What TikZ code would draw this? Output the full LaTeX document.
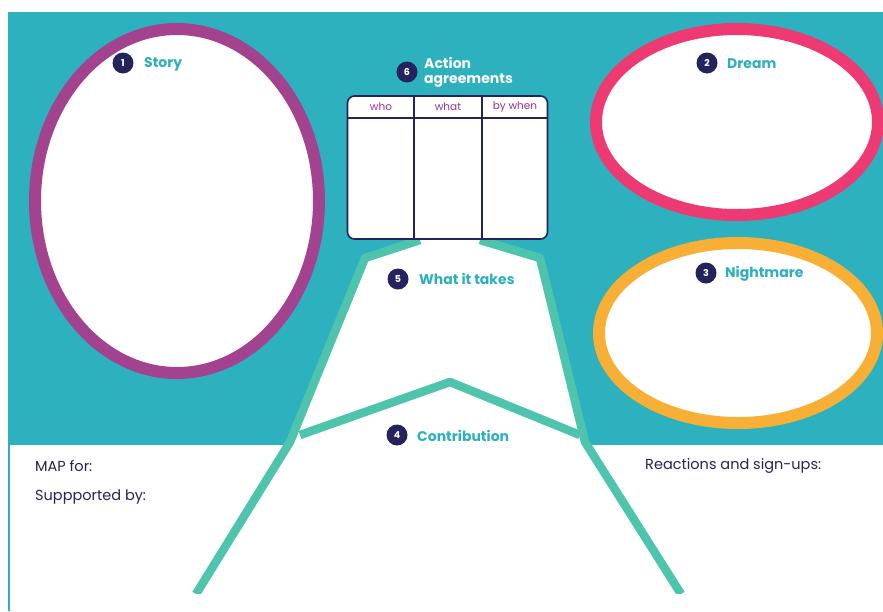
\documentclass[tikz,border=0pt]{standalone}
\usepackage{fontspec}
\setmainfont{Poppins}
\usetikzlibrary{calc}
\definecolor{bgteal}{HTML}{2DB1BF}
\definecolor{mgreen}{HTML}{4EC4AC}
\definecolor{spurple}{HTML}{A3428F}
\definecolor{dpink}{HTML}{EE3A72}
\definecolor{norange}{HTML}{F8AF36}
\definecolor{navy}{HTML}{24235B}
\definecolor{hpurple}{HTML}{9E2F8C}
\definecolor{lteal}{HTML}{2BAFC1}
\tikzset{
  badge/.style={circle,fill=navy,text=white,inner sep=0pt,minimum size=21pt,font=\bfseries\fontsize{9.5}{9.5}\selectfont},
  label/.style={anchor=west,text=lteal,inner sep=0pt,font=\bfseries\fontsize{14}{14}\selectfont},
  bodytext/.style={anchor=west,text=navy,inner sep=0pt,font=\fontsize{14.5}{14.5}\selectfont},
  hdr/.style={text=hpurple,inner sep=0pt,font=\fontsize{10.5}{11}\selectfont},
  ring/.style={line width=12pt,fill=white},
  mline/.style={draw=mgreen,line width=8.5pt,line join=round}
}
\begin{document}
\begin{tikzpicture}[x=1pt,y=-1pt]
\useasboundingbox (0,0) rectangle (883,611);
\fill[white] (0,0) rectangle (883,611);
\fill[bgteal] (8,12) rectangle (883,445);
\draw[bgteal,line width=1.5pt] (8.75,445) -- (8.75,611);
% mountain
\coordinate (tl) at (420,240);
\coordinate (sl) at (365,258);
\coordinate (ml) at (290,442);
\coordinate (bl) at (196,594);
\coordinate (tr) at (480,240);
\coordinate (sr) at (540,258);
\coordinate (mr) at (585,442);
\coordinate (br) at (681,594);
\coordinate (rl) at (300,435);
\coordinate (rt) at (450,382);
\coordinate (rr) at (580,435);
\fill[white] (tl) -- (sl) -- (ml) -- (bl) -- (br) -- (mr) -- (sr) -- (tr) -- cycle;
\draw[mline] (tl) -- (sl) -- (ml) -- (bl);
\draw[mline] (tr) -- (sr) -- (mr) -- (br);
\draw[mline] (rl) -- (rt) -- (rr);
% cut the bottom of the mountain straight
\fill[white] (150,594) rectangle (720,611);
% rings
\draw[ring,draw=spurple] (177,201) ellipse [x radius=142, y radius=172];
\draw[ring,draw=dpink] (737,122) ellipse [x radius=141, y radius=93];
\draw[ring,draw=norange] (738,333) ellipse [x radius=139, y radius=90];
% table
\node[draw=navy,line width=1.6pt,rounded corners=7pt,fill=white,minimum width=200pt,minimum height=143pt,inner sep=0pt] (tab) at (447.5,167.5) {};
\coordinate (c1) at (414,96);
\coordinate (c2) at (482,96);
\draw[navy,line width=1.6pt] (c1) -- (c1 |- tab.south);
\draw[navy,line width=1.6pt] (c2) -- (c2 |- tab.south);
\draw[navy,line width=1.6pt] (tab.west |- 0,118) -- (tab.east |- 0,118);
\node[hdr] (who) at (381,107) {who};
\node[hdr] (what) at (448,107) {what};
\node[hdr] (bywhen) at (515,107) {by when};
% labels
\node[badge] (b1) at (123,63) {1};
\node[label] (l1) at (144,64) {Story};
\node[badge] (b2) at (707,63) {2};
\node[label] (l2) at (727,64) {Dream};
\node[badge] (b3) at (706,273) {3};
\node[label] (l3) at (725,274) {Nightmare};
\node[badge] (b5) at (398,279) {5};
\node[label] (l5) at (419,279) {What it takes};
\node[badge] (b4) at (397,435) {4};
\node[label] (l4) at (417,436) {Contribution};
\node[badge] (b6) at (407,72) {6};
\node[label,text=white,align=left,anchor=west,font=\bfseries\fontsize{14}{15}\selectfont] (l6) at (424,72) {Action\\agreements};
% bottom texts
\node[bodytext] (mapfor) at (35,466) {MAP for:};
\node[bodytext] (supp) at (35,497) {Suppported by:};
\node[bodytext] (react) at (645,466) {Reactions and sign-ups:};
\end{tikzpicture}
\end{document}
